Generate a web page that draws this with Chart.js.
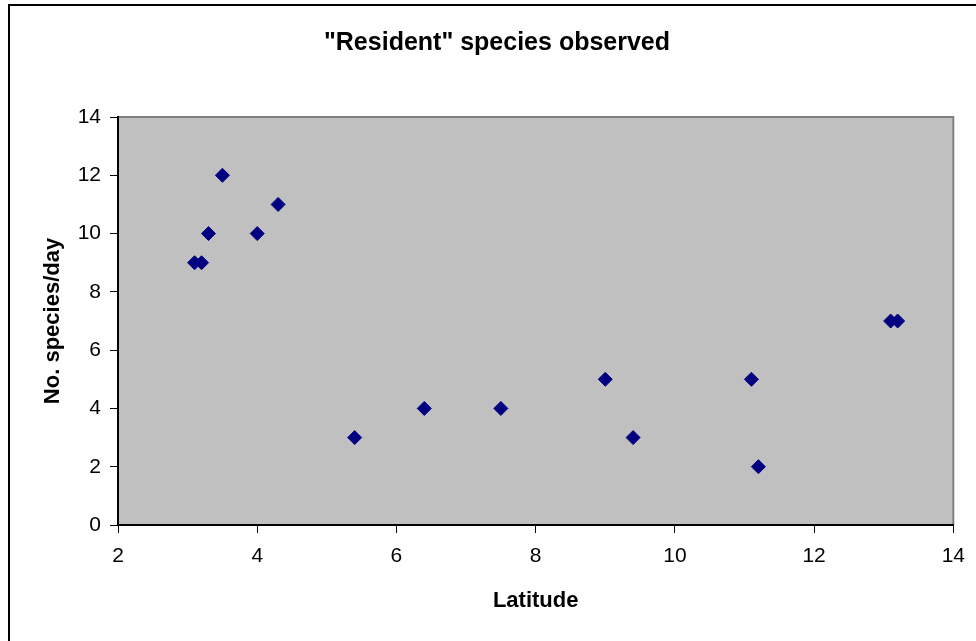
<!DOCTYPE html>
<html>
<head>
<meta charset="utf-8">
<script src="https://cdn.jsdelivr.net/npm/chart.js@4/dist/chart.umd.min.js"></script>
<style>
  html, body { margin: 0; padding: 0; background: #ffffff; }
  #wrap { width: 976px; height: 641px; position: relative; }
</style>
</head>
<body>
<div id="wrap"><canvas id="c" width="976" height="641"></canvas></div>
<script>
// ---- Data ----
const chartTitle = '"Resident" species observed';
const xAxisTitle = 'Latitude';
const yAxisTitle = 'No. species/day';
const latitude = [3.1, 3.2, 3.3, 3.5, 4.0, 4.3, 5.4, 6.4, 7.5, 9.0, 9.4, 11.1, 11.2, 13.1, 13.2];
const speciesPerDay = [9, 9, 10, 12, 10, 11, 3, 4, 4, 5, 3, 5, 2, 7, 7];
const xTicks = [2, 4, 6, 8, 10, 12, 14];
const yTicks = [0, 2, 4, 6, 8, 10, 12, 14];

const points = latitude.map((x, i) => ({ x: x, y: speciesPerDay[i] }));
const FONT = "'Liberation Sans', Arial, Helvetica, sans-serif";

const plotBg = {
  id: 'plotBg',
  beforeDraw(chart) {
    const { ctx, chartArea: a } = chart;
    ctx.save();
    ctx.fillStyle = '#C0C0C0';
    ctx.fillRect(a.left, a.top, a.right - a.left, a.bottom - a.top);
    ctx.strokeStyle = '#808080';
    ctx.lineWidth = 2;
    ctx.beginPath();
    ctx.moveTo(a.left, a.top);
    ctx.lineTo(a.right, a.top);
    ctx.lineTo(a.right, a.bottom);
    ctx.stroke();
    ctx.restore();
  },
  afterDraw(chart) {
    const { ctx } = chart;
    ctx.save();
    ctx.strokeStyle = '#000000';
    ctx.lineWidth = 2;
    ctx.beginPath();
    ctx.moveTo(9, chart.height + 2);
    ctx.lineTo(9, 5);
    ctx.lineTo(chart.width + 2, 5);
    ctx.stroke();
    ctx.restore();
  }
};

new Chart(document.getElementById('c'), {
  type: 'scatter',
  data: {
    datasets: [{
      data: points,
      pointStyle: 'rectRot',
      pointRadius: 7,
      pointHoverRadius: 7,
      backgroundColor: '#000080',
      borderColor: '#000080',
      borderWidth: 1
    }]
  },
  options: {
    responsive: false,
    animation: false,
    layout: { padding: { top: 0, left: 40, right: 22, bottom: 0 } },
    plugins: {
      legend: { display: false },
      tooltip: { enabled: false },
      title: {
        display: true,
        text: chartTitle,
        color: '#000000',
        font: { family: FONT, size: 25, weight: 'bold', lineHeight: 1.2 },
        padding: { top: 28, bottom: 59 }
      }
    },
    scales: {
      x: {
        type: 'linear',
        min: xTicks[0],
        max: xTicks[xTicks.length - 1],
        afterBuildTicks(scale) { scale.ticks = xTicks.map(v => ({ value: v })); },
        afterFit(scale) { scale.height = 116; },
        grid: { display: true, drawOnChartArea: false, drawTicks: true, tickLength: 8, color: '#000000', lineWidth: 1 },
        border: { display: true, color: '#000000', width: 2 },
        ticks: { color: '#000000', padding: 11, font: { family: FONT, size: 21 }, maxRotation: 0, autoSkip: false },
        title: {
          display: true,
          text: xAxisTitle,
          color: '#000000',
          font: { family: FONT, size: 22, weight: 'bold', lineHeight: 1.2 },
          padding: { top: 0, bottom: 27 }
        }
      },
      y: {
        type: 'linear',
        min: yTicks[0],
        max: yTicks[yTicks.length - 1],
        afterBuildTicks(scale) { scale.ticks = yTicks.map(v => ({ value: v })); },
        afterFit(scale) { scale.width = 78; },
        grid: { display: true, drawOnChartArea: false, drawTicks: true, tickLength: 8, color: '#000000', lineWidth: 1 },
        border: { display: true, color: '#000000', width: 2 },
        ticks: { color: '#000000', padding: 9, font: { family: FONT, size: 21 }, autoSkip: false },
        title: {
          display: true,
          text: yAxisTitle,
          color: '#000000',
          font: { family: FONT, size: 22, weight: 'bold', lineHeight: 1.2 },
          padding: { top: 0, bottom: 0 }
        }
      }
    }
  },
  plugins: [plotBg]
});
</script>
</body>
</html>
